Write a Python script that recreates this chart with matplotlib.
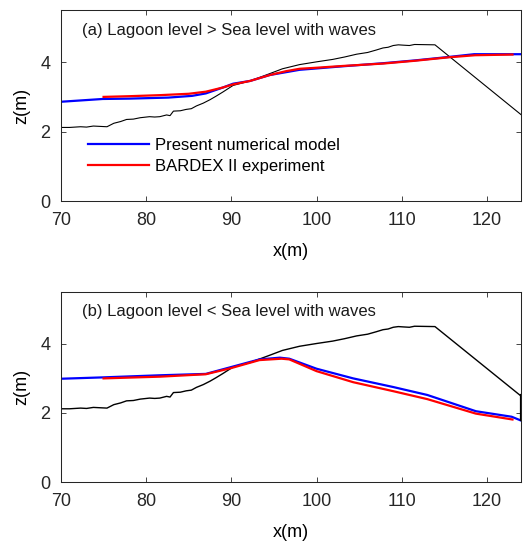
import matplotlib
matplotlib.use("Agg")
import matplotlib.pyplot as plt

plt.rcParams.update({
    "font.family": ["Liberation Sans", "DejaVu Sans"],
    "axes.edgecolor": "#262626",
    "axes.linewidth": 0.75,
    "xtick.color": "#262626",
    "ytick.color": "#262626",
    "xtick.direction": "in",
    "ytick.direction": "in",
    "xtick.top": True,
    "ytick.right": True,
    "xtick.major.size": 3.5,
    "ytick.major.size": 3.5,
    "xtick.major.width": 0.6,
    "ytick.major.width": 0.6,
    "xtick.major.pad": 8,
    "ytick.major.pad": 7.5,
})

# ── initial profile (black, same for both cases) ─────────────
x_init = [69.8, 71.0, 72.3, 73.0, 73.8, 74.6, 75.4, 76.2, 77.0, 77.7, 78.5,
          79.3, 80.4, 81.0, 81.6, 82.4, 82.8, 83.2, 84.0, 84.7, 85.3, 85.9,
          86.7, 87.5, 88.2, 89.0, 90.2, 92.2, 94.5, 96.0, 98.0, 100.0, 101.9,
          103.3, 104.7, 106.0, 107.0, 107.8, 108.4, 109.0, 109.6, 110.2,
          110.9, 111.5, 113.9, 124.5]
z_init = [2.12, 2.12, 2.14, 2.13, 2.16, 2.15, 2.14, 2.24, 2.29, 2.35, 2.36,
          2.40, 2.43, 2.42, 2.43, 2.48, 2.46, 2.59, 2.60, 2.64, 2.66, 2.74,
          2.82, 2.92, 3.02, 3.14, 3.33, 3.46, 3.67, 3.81, 3.93, 4.01, 4.08,
          4.15, 4.23, 4.28, 4.35, 4.41, 4.43, 4.48, 4.50, 4.49, 4.48, 4.51,
          4.50, 2.39]

# ── (a) lagoon level > sea level ─────────────────────────────
xa_model = [70.0, 74.9, 78.0, 82.6, 85.4, 87.0, 89.0, 90.2, 92.2, 94.5,
            98.0, 100.0, 103.0, 107.8, 111.5, 115.5, 118.5, 124.2]
za_model = [2.86, 2.94, 2.95, 2.98, 3.03, 3.10, 3.27, 3.38, 3.46, 3.63,
            3.78, 3.82, 3.88, 3.97, 4.05, 4.15, 4.23, 4.23]
xa_exp = [75.0, 78.0, 81.6, 85.0, 87.0, 89.0, 90.2, 92.2, 94.5, 96.4,
          98.0, 100.0, 103.0, 107.8, 111.5, 115.5, 118.6, 123.0]
za_exp = [3.00, 3.02, 3.05, 3.09, 3.15, 3.27, 3.36, 3.46, 3.63, 3.74,
          3.81, 3.84, 3.89, 3.96, 4.04, 4.14, 4.20, 4.22]

# ── (b) lagoon level < sea level ─────────────────────────────
xb_model = [70.0, 75.0, 81.6, 87.0, 90.0, 93.3, 95.7, 96.8, 100.0, 104.3,
            109.0, 113.0, 118.7, 122.9, 124.2]
zb_model = [2.99, 3.03, 3.09, 3.13, 3.33, 3.55, 3.60, 3.57, 3.28, 3.00,
            2.75, 2.52, 2.05, 1.89, 1.76]
xb_exp = [75.0, 81.6, 87.0, 90.0, 93.3, 95.9, 96.8, 100.0, 104.3, 109.0,
          113.0, 118.7, 123.0]
zb_exp = [3.00, 3.05, 3.12, 3.30, 3.53, 3.57, 3.55, 3.21, 2.89, 2.63,
          2.40, 1.98, 1.81]
x_wall = [124.0, 124.0]
z_wall = [2.52, 1.80]

titles = ["(a) Lagoon level > Sea level with waves",
          "(b) Lagoon level < Sea level with waves"]

fig = plt.figure(figsize=(5.23, 5.47), dpi=100)
ax_a = fig.add_axes([0.1166, 0.6325, 0.8796, 0.3490])
ax_b = fig.add_axes([0.1166, 0.1188, 0.8796, 0.3473])

panels = [(ax_a, xa_model, za_model, xa_exp, za_exp),
          (ax_b, xb_model, zb_model, xb_exp, zb_exp)]

for i, (ax, xm, zm, xe, ze) in enumerate(panels):
    ax.plot(x_init, z_init, color="black", lw=0.8 if i == 0 else 1.0)
    ax.plot(xm, zm, color="#0000ff", lw=1.6, label="Present numerical model")
    ax.plot(xe, ze, color="#ff0000", lw=1.6, label="BARDEX II experiment")
    if i == 1:
        ax.plot(x_wall, z_wall, color="black", lw=1.6)
    ax.set_xlim(70, 124)
    ax.set_ylim(0, 5.5)
    ax.set_xticks([70, 80, 90, 100, 110, 120])
    ax.set_yticks([0, 2, 4])
    ax.tick_params(labelsize=13)
    ax.set_xlabel("x(m)", fontsize=13, labelpad=10)
    ax.set_ylabel("z(m)", fontsize=13, labelpad=7)
    ax.text(0.046, 0.895, titles[i], transform=ax.transAxes,
            fontsize=12, va="center", ha="left", color="#1a1a1a")

ax_a.legend(loc="center left", bbox_to_anchor=(0.058, 0.237), frameon=False,
            fontsize=12, handlelength=3.7, handletextpad=0.35,
            labelspacing=0.35, borderpad=0, borderaxespad=0)

fig.savefig("out.png", dpi=100)
